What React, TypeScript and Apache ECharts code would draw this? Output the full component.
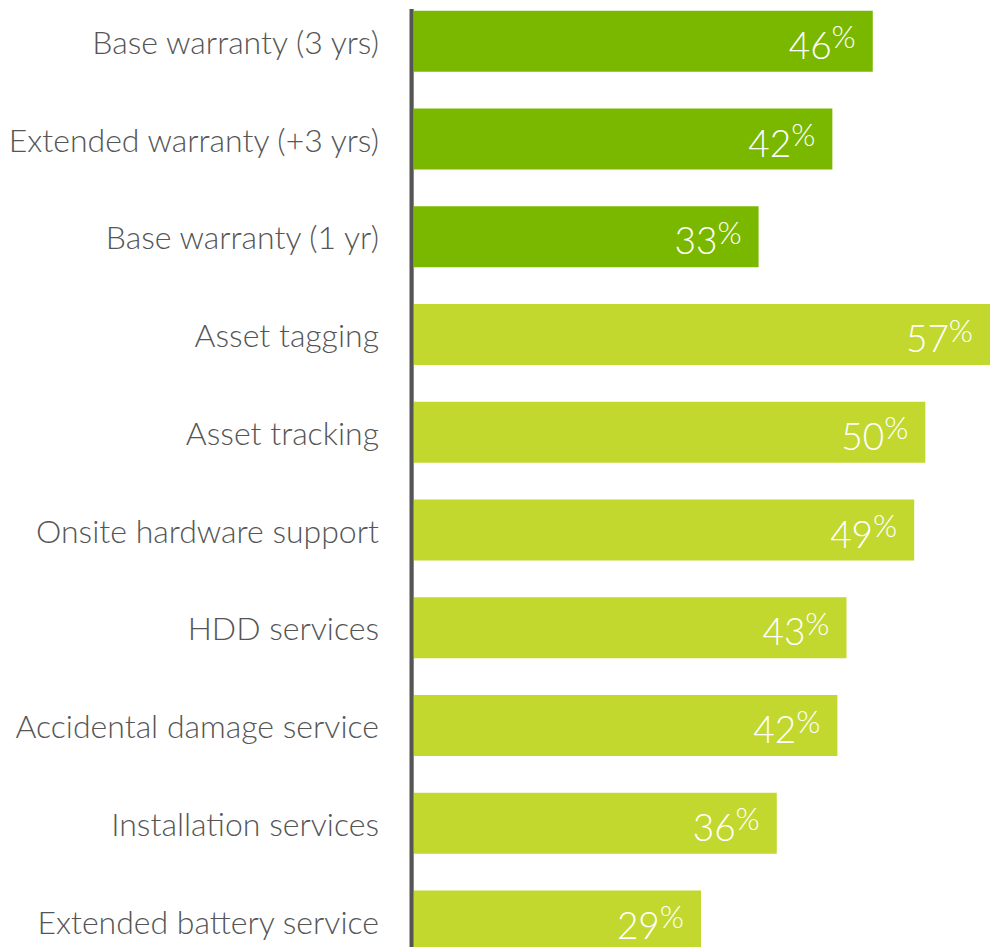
import React, { useEffect, useRef } from "react";
import * as echarts from "echarts";

const categories = [
  "Base warranty (3 yrs)",
  "Extended warranty (+3 yrs)",
  "Base warranty (1 yr)",
  "Asset tagging",
  "Asset tracking",
  "Onsite hardware support",
  "HDD services",
  "Accidental damage service",
  "Installation services",
  "Extended battery service",
];
// bar lengths (percent)
const barValues = [45.4, 41.4, 34.1, 57, 50.6, 49.5, 42.8, 41.9, 35.9, 28.4];
// printed labels
const percentLabels = ["46", "42", "33", "57", "50", "49", "43", "42", "36", "29"];
const darkGroupCount = 3;

const DARK = "#7ab800";
const LIGHT = "#c2d82f";
const FONT = "'Lato Light', Lato, 'Open Sans', sans-serif";

export default function App() {
  const ref = useRef<HTMLDivElement>(null);
  useEffect(() => {
    if (!ref.current) return;
    const chart = echarts.init(ref.current, null, { renderer: "svg" });
    const offsetY = 20;
    chart.setOption({
      animation: false,
      grid: {
        left: 414,
        right: 0,
        top: 41.3 - 48.875 + offsetY,
        height: 977.5,
        containLabel: false,
        outerBoundsMode: "none",
      },
      xAxis: {
        type: "value",
        min: 0,
        max: 57,
        show: false,
      },
      yAxis: {
        type: "category",
        inverse: true,
        data: categories,
        axisLine: { show: false },
        axisTick: { show: false },
        splitLine: { show: false },
        axisLabel: {
          margin: 35,
          fontSize: 32,
          fontFamily: FONT,
          fontWeight: 300,
          color: "#555555",
          padding: [6, 0, 0, 0],
        },
      },
      graphic: [
        {
          type: "rect",
          left: 409.5,
          top: 9 + offsetY,
          shape: { width: 4.2, height: 1000 },
          style: { fill: "#555555" },
          z: 10,
        },
      ],
      series: [
        {
          type: "bar",
          barWidth: 61,
          data: barValues.map((v, i) => ({
            value: v,
            itemStyle: { color: i < darkGroupCount ? DARK : LIGHT },
          })),
          label: {
            show: true,
            position: "insideRight",
            distance: 17,
            formatter: (p: any) => `{n|${percentLabels[p.dataIndex]}}{p|%}`,
            rich: {
              n: { fontSize: 37, fontFamily: FONT, fontWeight: 300, color: "#ffffff", padding: [6, 0, 0, 0] },
              p: { fontSize: 31, fontFamily: FONT, fontWeight: 300, color: "#ffffff", padding: [0, 0, 10, 0] },
            },
          },
        },
      ],
    });
    return () => chart.dispose();
  }, []);
  return (
    <div style={{ position: "absolute", left: 0, top: 0, width: 990, height: 947, overflow: "hidden" }}>
      <div ref={ref} style={{ width: 990, height: 1010, marginTop: -20 }} />
    </div>
  );
}
